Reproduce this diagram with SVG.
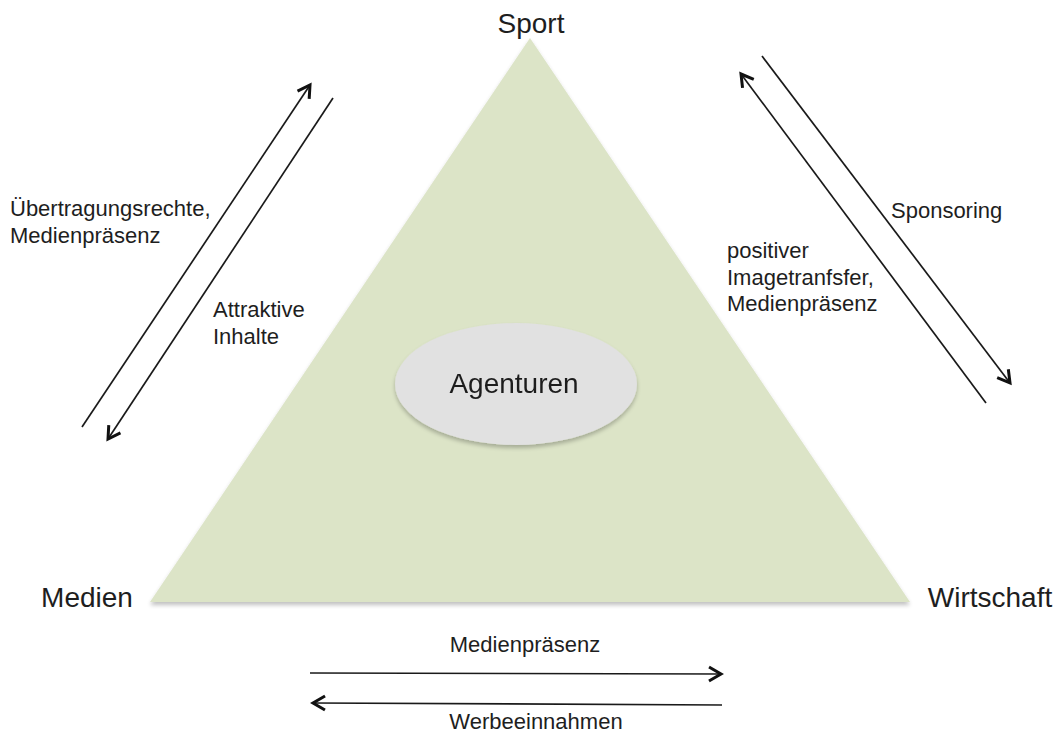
<svg xmlns="http://www.w3.org/2000/svg" width="1061" height="735" viewBox="0 0 1061 735">
  <style>
    .lbl { font-family: "Liberation Sans", Arial, sans-serif; fill: #1e1e1e; }
    .big { font-size: 28px; }
    .small { font-size: 22px; }
    .conn { stroke: #1a1a1a; stroke-width: 1.7; fill: none; marker-end: url(#arr); }
  </style>
  <defs>
    <marker id="arr" markerUnits="userSpaceOnUse" viewBox="-2 -2 17 18" refX="12" refY="7" markerWidth="17" markerHeight="18" orient="auto">
      <path d="M0,0 L12,7 L0,14" fill="none" stroke="#111" stroke-width="3" stroke-linejoin="miter"/>
    </marker>
    <filter id="sh" x="-10%" y="-10%" width="120%" height="130%">
      <feGaussianBlur in="SourceAlpha" stdDeviation="2"/>
      <feOffset dx="0" dy="3"/>
      <feComponentTransfer><feFuncA type="linear" slope="0.25"/></feComponentTransfer>
      <feMerge><feMergeNode/><feMergeNode in="SourceGraphic"/></feMerge>
    </filter>
  </defs>
  <rect width="1061" height="735" fill="#ffffff"/>

  <g id="triangle" filter="url(#sh)">
    <polygon points="530,38 150,602 910,602" fill="#dce4c7"/>
  </g>

  <g id="agenturen" filter="url(#sh)">
    <ellipse cx="516" cy="384" rx="121" ry="61" fill="#e1e1e1"/>
    <text class="lbl" x="514" y="393" font-size="28" text-anchor="middle">Agenturen</text>
  </g>

  <g id="sport"><text class="lbl big" x="531" y="33" text-anchor="middle">Sport</text></g>
  <g id="medien"><text class="lbl big" x="87" y="607" text-anchor="middle">Medien</text></g>
  <g id="wirtschaft"><text class="lbl big" x="990" y="607" text-anchor="middle">Wirtschaft</text></g>

  <g id="connectors">
    <line class="conn" x1="82" y1="427" x2="310" y2="85"/>
    <line class="conn" x1="333" y1="98" x2="108" y2="439"/>
    <line class="conn" x1="986" y1="403" x2="741" y2="74"/>
    <line class="conn" x1="762" y1="56" x2="1010" y2="383"/>
    <line class="conn" x1="310" y1="673" x2="721" y2="674"/>
    <line class="conn" x1="722" y1="705" x2="313" y2="703"/>
  </g>

  <g id="labels">
    <text class="lbl small" x="10" y="216">Übertragungsrechte,</text>
    <text class="lbl small" x="10" y="243">Medienpräsenz</text>
    <text class="lbl small" x="213" y="317">Attraktive</text>
    <text class="lbl small" x="213" y="344">Inhalte</text>
    <text class="lbl small" x="891" y="218">Sponsoring</text>
    <text class="lbl small" x="727" y="258">positiver</text>
    <text class="lbl small" x="727" y="285">Imagetranfsfer,</text>
    <text class="lbl small" x="727" y="311">Medienpräsenz</text>
    <text class="lbl small" x="525" y="652" text-anchor="middle">Medienpräsenz</text>
    <text class="lbl small" x="536" y="729" text-anchor="middle">Werbeeinnahmen</text>
  </g>
</svg>
